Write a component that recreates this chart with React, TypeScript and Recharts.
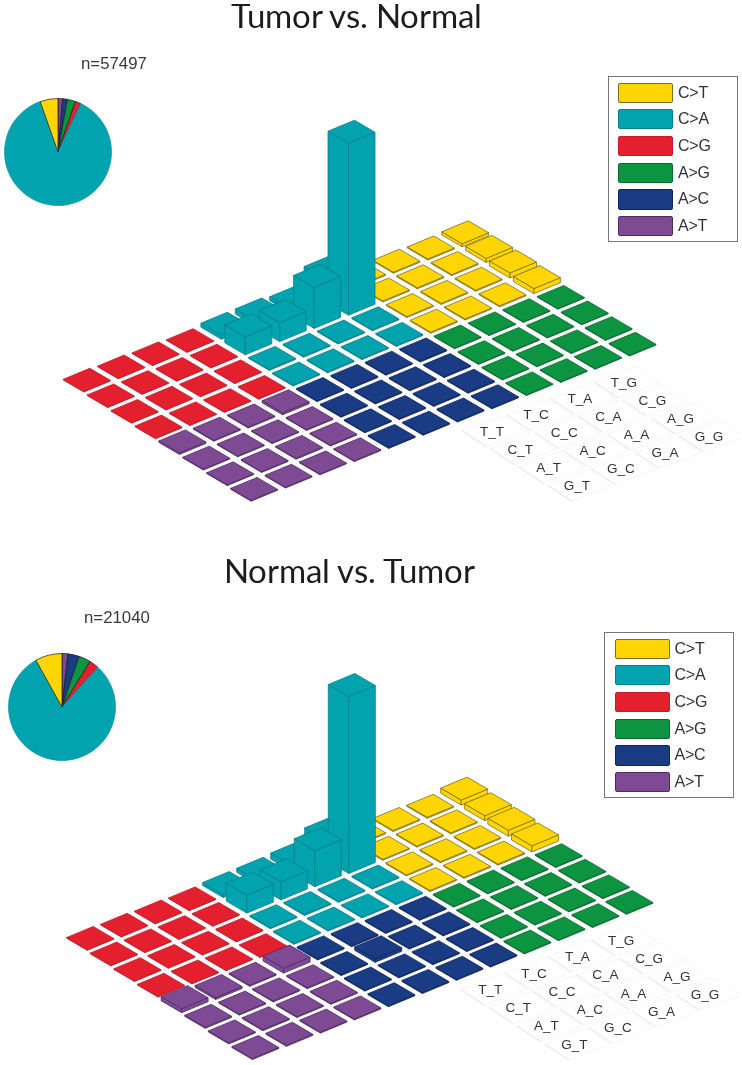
import React from "react";
import { ScatterChart, Scatter, XAxis, YAxis, Legend, PieChart, Pie, Cell } from "recharts";

// ---- categories
const legendOrder = ["C>T", "C>A", "C>G", "A>G", "A>C", "A>T"];
const pieOrder = ["A>T", "A>C", "A>G", "C>G", "C>A", "C>T"];
const firstBases = ["T", "C", "A", "G"];
const lastBases = ["T", "C", "A", "G"];

// ---- lego heights, each 4 rows x 4 columns
const tumorCT = [1, 1, 1, 3, 1, 1, 1, 4, 1, 1, 1, 5, 1, 1, 1, 5];
const tumorCA = [4, 5, 4, 21, 18, 19, 41, 172, 1, 1, 1, 1, 1, 1, 1, 1];
const tumorCG = [0.7, 0.7, 0.7, 0.7, 0.7, 0.7, 0.7, 0.7, 0.7, 0.7, 0.7, 0.7, 0.7, 0.7, 0.7, 0.7];
const tumorAG = [0.7, 0.7, 0.7, 0.7, 0.7, 0.7, 0.7, 0.7, 0.7, 0.7, 0.7, 0.7, 0.7, 0.7, 0.7, 0.7];
const tumorAC = [1, 1, 1, 1, 1, 1, 1, 1, 1, 1, 1, 1, 1, 1, 1, 1];
const tumorAT = [1.5, 1, 1, 2, 0.8, 0.8, 0.8, 0.8, 0.8, 0.8, 0.8, 0.8, 0.8, 0.8, 0.8, 0.8];

const normalCT = [1, 1, 1, 5, 1, 1, 1, 5, 1, 1, 1, 6, 1, 1, 1, 6];
const normalCA = [3, 4, 6, 18, 18, 18, 36, 177, 1, 1, 1, 1, 1, 1, 1, 1];
const normalCG = [0.8, 0.8, 0.8, 0.8, 0.8, 0.8, 0.8, 0.8, 0.8, 0.8, 0.8, 0.8, 0.8, 0.8, 0.8, 0.8];
const normalAG = [0.8, 0.8, 0.8, 0.8, 0.8, 0.8, 0.8, 0.8, 0.8, 0.8, 0.8, 0.8, 0.8, 0.8, 0.8, 0.8];
const normalAC = [1, 1, 1, 1, 1, 3.5, 1, 1, 1, 1, 1, 1, 1, 1, 1, 1];
const normalAT = [4, 2, 1, 5, 1, 1, 1, 1, 1, 1, 1, 1, 1, 1, 1, 1];

// ---- pie shares, in pieOrder
const tumorPie = [1.4, 1.4, 2.5, 1.7, 87.6, 5.4];
const normalPie = [1.8, 3.4, 3.6, 2.9, 80.2, 8.1];

// ---- style
const COLORS: Record<string, string> = {
  "C>T": "#FFD504", "C>A": "#00A3AE", "C>G": "#E4202F",
  "A>G": "#0C9440", "A>C": "#1A3C85", "A>T": "#7E4A93",
};
const EDGES: Record<string, string> = {
  "C>T": "#7d6f1a", "C>A": "#0a7f88", "C>G": "#c41c2b",
  "A>G": "#0a6a30", "A>C": "#10255e", "A>T": "#4f2a66",
};
// block placement in the 12 x 8 floor; back blocks are first so nearer ones paint over them
const BLOCKS: [string, number, number][] = [
  ["C>T", 8, 0], ["C>A", 4, 0], ["A>G", 8, 4], ["C>G", 0, 0], ["A>C", 4, 4], ["A>T", 0, 4],
];

const W = 742;
const H = 510;
const tile = { ax: 26.5, ay: -11, bx: 20.5, by: 12 };

type Geo = { ox: number; oy: number; ax: number; ay: number; bx: number; by: number; lx: number; ly: number; lax: number; lay: number; lbx: number; lby: number };

function cells(values: number[], i0: number, j0: number, g: Geo, type: string) {
  const out: any[] = [];
  for (let r = 0; r < 4; r++) {
    for (let c = 3; c >= 0; c--) {
      const i = i0 + c;
      const j = j0 + r;
      out.push({
        x: g.ox + i * g.ax + j * g.bx,
        y: g.oy + i * g.ay + j * g.by,
        h: values[r * 4 + c],
        type,
      });
    }
  }
  return out;
}

function labels(g: Geo) {
  const out: any[] = [];
  firstBases.forEach((f, r) =>
    lastBases.forEach((l, c) =>
      out.push({ x: g.lx + c * g.lax + r * g.lbx, y: g.ly + c * g.lay + r * g.lby, name: `${f}_${l}` })
    )
  );
  return out;
}

const pts = (p: number[][]) => p.map((q) => q.join(",")).join(" ");

function Block(props: any) {
  const { cx, cy, payload } = props;
  const { h, type } = payload;
  const L = [cx, cy];
  const T = [cx + tile.ax, cy + tile.ay];
  const B = [cx + tile.bx, cy + tile.by];
  const R = [cx + tile.ax + tile.bx, cy + tile.ay + tile.by];
  const up = (q: number[]) => [q[0], q[1] - h];
  const fill = COLORS[type];
  const st = { fill, stroke: EDGES[type], strokeWidth: 0.8, strokeLinejoin: "round" as const };
  return (
    <g>
      <polygon points={pts([L, B, up(B), up(L)])} {...st} />
      <polygon points={pts([B, R, up(R), up(B)])} {...st} />
      <polygon points={pts([up(L), up(T), up(R), up(B)])} {...st} />
    </g>
  );
}

function LabelCell(props: any) {
  const { cx, cy, payload } = props;
  const a = [41, -15.5];
  const b = [24, 16];
  const L = [cx + 3 - (a[0] + b[0]) / 2, cy];
  const T = [L[0] + a[0], L[1] + a[1]];
  const B = [L[0] + b[0], L[1] + b[1]];
  const R = [L[0] + a[0] + b[0], L[1] + a[1] + b[1]];
  return (
    <g>
      <polygon points={pts([L, T, R, B])} fill="none" stroke="#f4f4f4" strokeWidth={0.8} />
      <line x1={L[0]} y1={L[1]} x2={B[0]} y2={B[1]} stroke="#dedede" strokeWidth={0.8} />
      <text x={cx} y={cy + 4.7} textAnchor="middle" fontFamily="Liberation Sans" fontSize={13.5} fill="#333">
        {payload.name}
      </text>
    </g>
  );
}

function LegendBox(props: any) {
  const items = (props.payload || [])
    .filter((it: any) => legendOrder.includes(it.value))
    .sort((a: any, b: any) => legendOrder.indexOf(a.value) - legendOrder.indexOf(b.value));
  return (
    <div style={{ position: "relative", width: 130, height: 166, boxSizing: "border-box", border: "1px solid #777", background: "#fff" }}>
      {items.map((it: any, k: number) => (
        <div key={it.value}>
          <div
            style={{
              position: "absolute", left: 9.5, top: 6 + k * 26.7, width: 55, height: 20.3, boxSizing: "border-box",
              background: it.color, border: `1px solid ${EDGES[it.value]}`, borderRadius: 2,
            }}
          />
          <div
            style={{
              position: "absolute", left: 69.5, top: 6 + k * 26.7, lineHeight: "20px", fontFamily: "Liberation Sans",
              fontSize: 16, letterSpacing: -0.2, color: "#333", whiteSpace: "nowrap",
            }}
          >
            {it.value}
          </div>
        </div>
      ))}
    </div>
  );
}

function Lego({ series, geo, legendPos }: { series: Record<string, number[]>; geo: Geo; legendPos: { left: number; top: number } }) {
  const lab = labels(geo);
  return (
    <ScatterChart width={W} height={H} margin={{ top: 0, right: 0, bottom: 0, left: 0 }}>
      <XAxis type="number" dataKey="x" domain={[0, W]} hide />
      <YAxis type="number" dataKey="y" domain={[0, H]} reversed hide />
      <Legend
        layout="vertical"
        align="center"
        verticalAlign="middle"
        wrapperStyle={{ left: legendPos.left, top: legendPos.top, width: 130, height: 166, bottom: "auto", right: "auto" }}
        content={(p: any) => <LegendBox {...p} />}
      />
      <Scatter name="contexts" data={lab} legendType="none" isAnimationActive={false} shape={(p: any) => <LabelCell {...p} />} />
      {BLOCKS.map(([type, i0, j0]) => (
        <Scatter
          key={type}
          name={type}
          data={cells(series[type], i0, j0, geo, type)}
          fill={COLORS[type]}
          isAnimationActive={false}
          shape={(p: any) => <Block {...p} />}
        />
      ))}
    </ScatterChart>
  );
}

function Share({ values }: { values: number[] }) {
  const data = pieOrder.map((name, k) => ({ name, value: values[k] }));
  return (
    <PieChart width={120} height={120} margin={{ top: 0, right: 0, bottom: 0, left: 0 }}>
      <Pie data={data} dataKey="value" cx={60} cy={60} innerRadius={0} outerRadius={53.5} startAngle={90} endAngle={-270} isAnimationActive={false}>
        {data.map((d) => (
          <Cell key={d.name} fill={COLORS[d.name]} stroke={d.name === "C>A" ? "#0a8f99" : "#1a1a1a"} strokeWidth={0.7} />
        ))}
      </Pie>
    </PieChart>
  );
}

// Lato's default box reaches far above its capitals; tighten it to the glyphs so the title box stays on the page.
const titleFace = `@font-face { font-family: "TitleLato"; src: local("Lato"), local("Lato Regular"), local("Lato-Regular"); ascent-override: 78%; descent-override: 22%; line-gap-override: 0%; }`;

const titleStyle: React.CSSProperties = {
  position: "absolute", width: W, textAlign: "center", fontFamily: "TitleLato, Lato", fontSize: 33, lineHeight: "33px", color: "#1c1c1c", whiteSpace: "nowrap",
};
const nStyle: React.CSSProperties = {
  position: "absolute", fontFamily: "Liberation Sans", fontSize: 16.8, lineHeight: "18px", color: "#3a3a3a", whiteSpace: "nowrap",
};
const abs = (left: number, top: number): React.CSSProperties => ({ position: "absolute", left, top });

const geoTop: Geo = { ox: 63.3, oy: 380, ax: 34.4, ay: -13.2, bx: 23.9, by: 15.6, lx: 492, ly: 431, lax: 44, lay: -16.3, lbx: 28.3, lby: 18 };
const geoBottom: Geo = { ox: 66.7, oy: 383.3, ax: 34, ay: -13.2, bx: 23.6, by: 15.6, lx: 490.3, ly: 434.3, lax: 43.6, lay: -16.4, lbx: 28, lby: 18.2 };

export default function App() {
  return (
    <div style={{ position: "absolute", left: 0, top: 0, width: W, height: 1065, background: "#fff", overflow: "hidden", filter: "blur(0.35px)" }}>
      <style>{titleFace}</style>
      <div style={abs(0, 0)}>
        <Lego
          geo={geoTop}
          legendPos={{ left: 607.5, top: 75.5 }}
          series={{ "C>T": tumorCT, "C>A": tumorCA, "C>G": tumorCG, "A>G": tumorAG, "A>C": tumorAC, "A>T": tumorAT }}
        />
      </div>
      <div style={abs(0, 555)}>
        <Lego
          geo={geoBottom}
          legendPos={{ left: 604, top: 76.5 }}
          series={{ "C>T": normalCT, "C>A": normalCA, "C>G": normalCG, "A>G": normalAG, "A>C": normalAC, "A>T": normalAT }}
        />
      </div>
      <div style={abs(-1.7, 91.7)}><Share values={tumorPie} /></div>
      <div style={abs(1.7, 646.7)}><Share values={normalPie} /></div>
      <div style={{ ...titleStyle, left: -15, top: 1.6 }}>Tumor vs. Normal</div>
      <div style={{ ...titleStyle, left: -21.5, top: 557 }}>Normal vs. Tumor</div>
      <div style={{ ...nStyle, left: 81, top: 55.2 }}>n=57497</div>
      <div style={{ ...nStyle, left: 84, top: 609.2 }}>n=21040</div>
    </div>
  );
}
